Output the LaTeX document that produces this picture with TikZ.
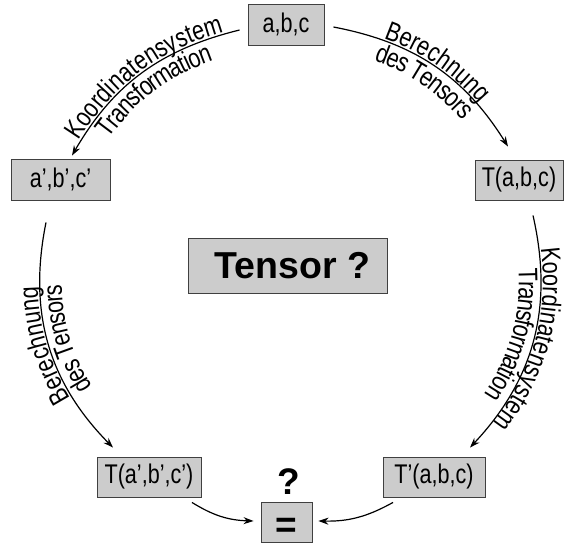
\documentclass[tikz,border=0pt]{standalone}
\usepackage{fontspec}
\setmainfont{Liberation Sans}
\newfontfamily\narrowfam[FakeStretch=0.8]{Liberation Sans}
\usetikzlibrary{arrows.meta,decorations.text}
\begin{document}
\begin{tikzpicture}[x=1pt,y=1pt,
  box/.style={draw=black!75, line width=0.9pt, fill=black!20, inner sep=0pt,
    font=\narrowfam\fontsize{27}{30}\selectfont, minimum height=40pt},
  arr/.style={line width=1.2pt, -{Stealth[length=10pt,width=7pt]}},
]
\useasboundingbox (0,0) rectangle (565,-546);
\def\lf{\narrowfam\fontsize{27}{30}\selectfont}
% nodes
\node[box, minimum width=76pt, minimum height=41pt] (abc) at (286,-24.5) {a,b,c};
\node[box, minimum width=99pt, minimum height=41pt] (apbpcp) at (60.5,-179.5) {a’,b’,c’};
\node[box, minimum width=88pt] (Tabc) at (519,-180) {T(a,b,c)};
\node[box, minimum width=199pt, minimum height=55pt, font=\bfseries\fontsize{37.5}{40}\selectfont] (tensor) at (287.5,-265.5) {\hspace*{10pt}Tensor ?};
\node[box, minimum width=104pt] (Tap) at (149,-477) {T(a’,b’,c’)};
\node[box, minimum width=102pt] (Tp) at (434,-477) {T’(a,b,c)};
\node[box, minimum width=51pt, font=\bfseries\fontsize{37}{40}\selectfont] (eq) at (286.5,-522) {\raisebox{0pt}[30pt][0pt]{=}};
\node[font=\bfseries\fontsize{37}{40}\selectfont, inner sep=0pt] (q) at (289,-482) {?};
% arrow 1: abc -> a'b'c'
\draw[arr] ([shift={(-8,-5.5)}]abc.west) to[bend right=23] ([shift={(11.5,3)}]apbpcp.north);
\path[decorate, decoration={text along path, text align=center, raise=2pt,
  text={|\lf|Koordinatensystem}}]
  ([shift={(11.5,3)}]apbpcp.north) to[bend left=23] ([shift={(-8,-5.5)}]abc.west);
\path[decorate, decoration={text along path, text align=center, raise=-22pt,
  text={|\lf|Transformation}}]
  ([shift={(11.5,3)}]apbpcp.north) to[bend left=23] ([shift={(-8,-5.5)}]abc.west);
% arrow 2: abc -> T(a,b,c)
\draw[arr] ([shift={(9,-2.5)}]abc.east) to[bend left=23.6] ([shift={(-11,13)}]Tabc.north);
\path[decorate, decoration={text along path, text align=center, raise=2pt,
  text={|\lf|Berechnung}}]
  ([shift={(9,-2.5)}]abc.east) to[bend left=23.6] ([shift={(-11,13)}]Tabc.north);
\path[decorate, decoration={text along path, text align=center, raise=-22pt,
  text={|\lf|des Tensors}}]
  ([shift={(9,-2.5)}]abc.east) to[bend left=23.6] ([shift={(-11,13)}]Tabc.north);
% arrow 3: a'b'c' -> T(a',b',c')
\draw[arr] ([shift={(-14.5,-22)}]apbpcp.south) to[bend right=28] ([shift={(-36,9)}]Tap.north);
\path[decorate, decoration={text along path, text align=center, raise=2pt,
  text={|\lf|Berechnung}}]
  ([shift={(-36,9)}]Tap.north) to[bend left=28] ([shift={(-14.5,-22)}]apbpcp.south);
\path[decorate, decoration={text along path, text align=center, raise=-22pt,
  text={|\lf|des Tensors}}]
  ([shift={(-36,9)}]Tap.north) to[bend left=28] ([shift={(-14.5,-22)}]apbpcp.south);
% arrow 4: T(a,b,c) -> T'(a,b,c)
\draw[arr] ([shift={(14,-15)}]Tabc.south) to[bend left=28] ([shift={(36,9)}]Tp.north);
\path[decorate, decoration={text along path, text align=center, raise=2pt,
  text={|\lf|Koordinatensystem}}]
  ([shift={(14,-15)}]Tabc.south) to[bend left=28] ([shift={(36,9)}]Tp.north);
\path[decorate, decoration={text along path, text align=center, raise=-22pt,
  text={|\lf|Transformation}}]
  ([shift={(14,-15)}]Tabc.south) to[bend left=28] ([shift={(36,9)}]Tp.north);
% arrows to =
\draw[arr] ([shift={(43,-5)}]Tap.south) to[bend right=15] ([shift={(-7,1)}]eq.west);
\draw[arr] ([shift={(-41,-5)}]Tp.south) to[bend left=15] ([shift={(6,1)}]eq.east);
\end{tikzpicture}
\end{document}
